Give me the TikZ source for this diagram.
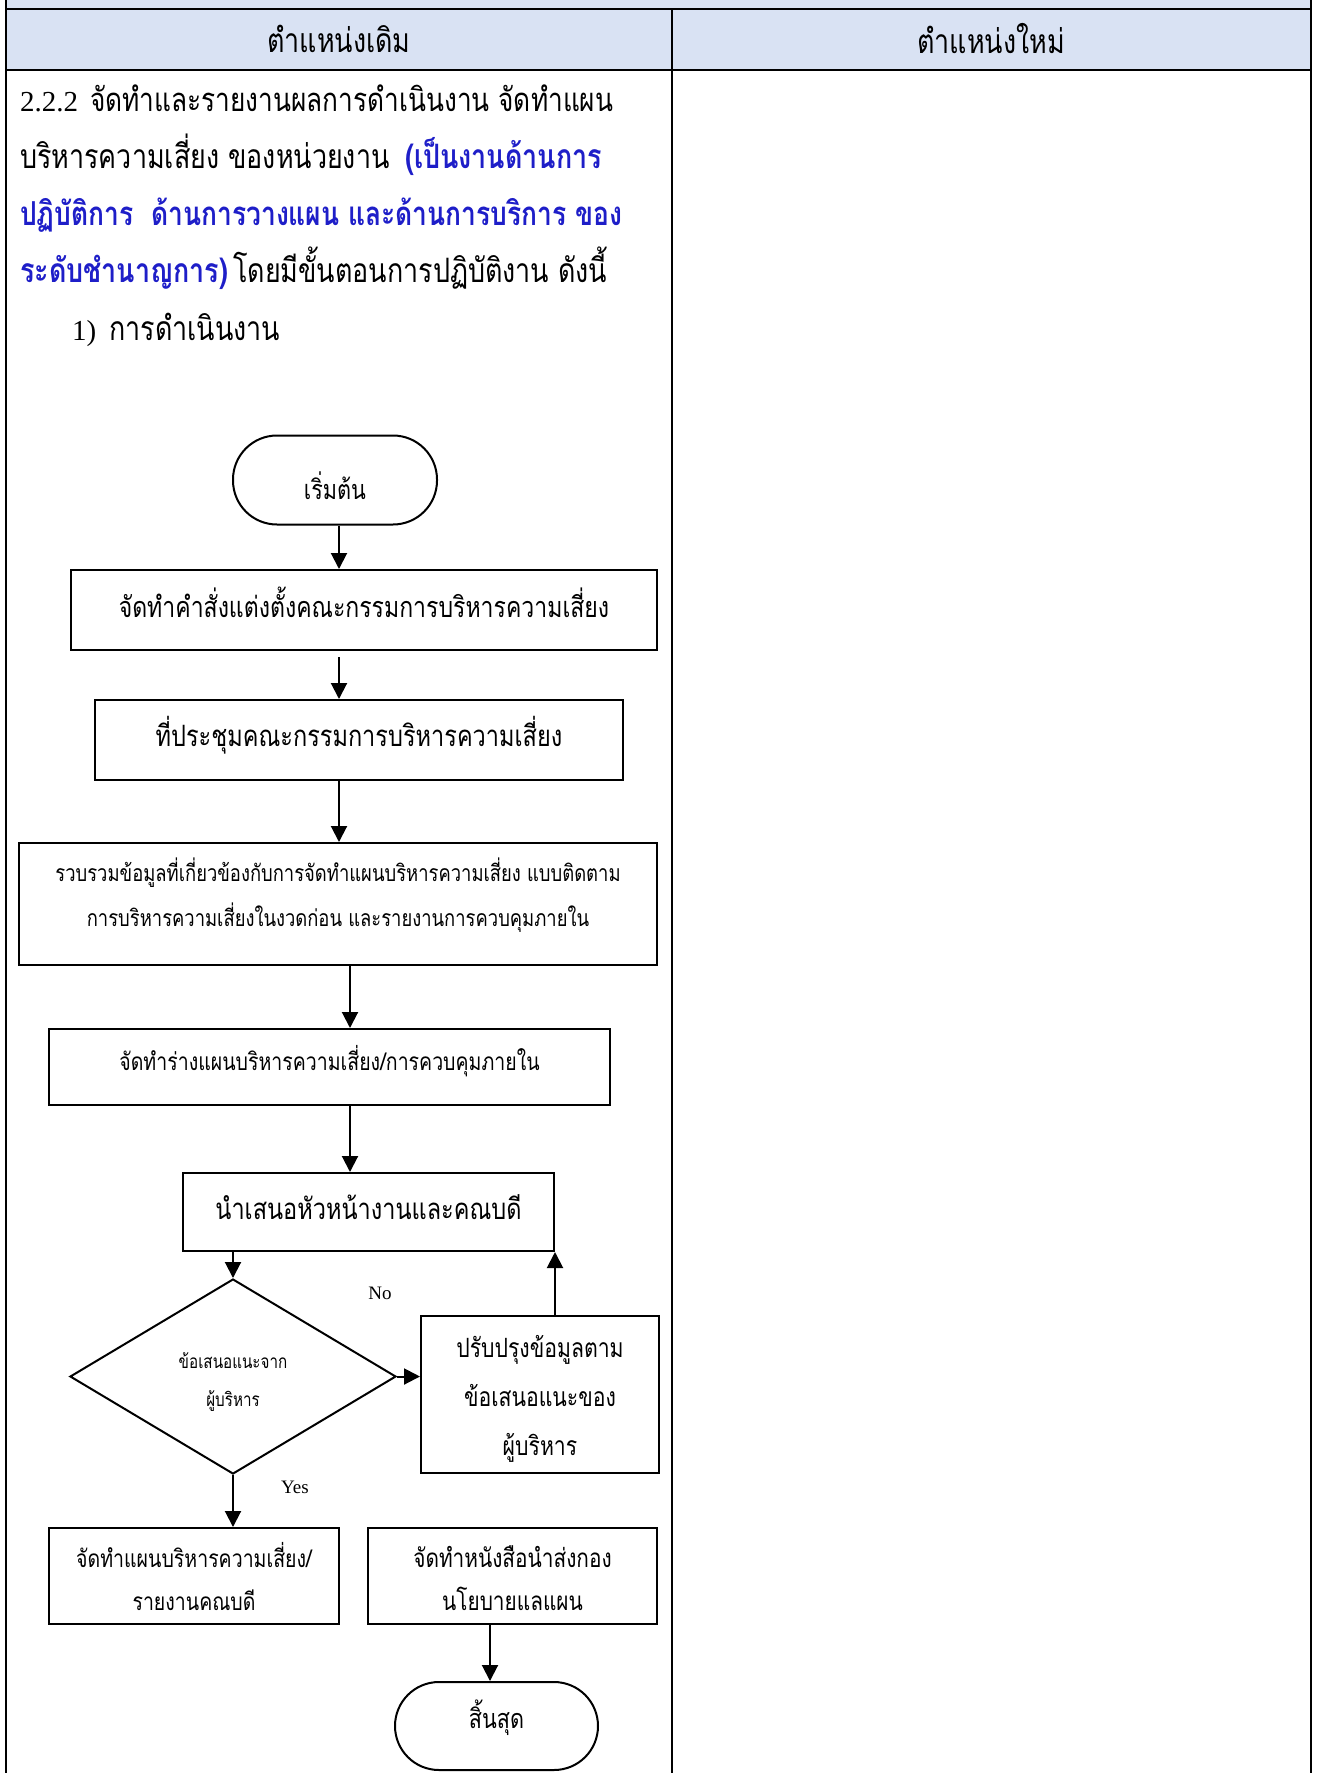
\documentclass[tikz,border=0pt]{standalone}
\usepackage{fontspec}
\setmainfont{Liberation Serif}
\newfontfamily\thai[Script=Thai,FakeStretch=0.8]{Loma}
\usetikzlibrary{arrows.meta,shapes.geometric}

\definecolor{headblue}{RGB}{217,226,243}
\definecolor{textblue}{RGB}{30,30,200}

\newcommand\tsz[2]{\fontsize{#1}{#2}\selectfont}
\newcommand\latinbody{\rmfamily\tsz{29}{34}}
% move a line of text up or down without changing its box
\newcommand\nudge[2]{\raisebox{#1}[\height][\depth]{#2}}

\tikzset{
  para/.style={anchor=base west, inner sep=0pt, font=\thai\tsz{33.6}{40}},
  bluepara/.style={para, text=textblue, font=\thai\bfseries\tsz{33.6}{40}},
  headtxt/.style={inner sep=0pt, font=\thai\tsz{33.6}{40}},
  box/.style={draw, rectangle, line width=2pt, inner sep=0pt, align=center, font=\thai},
  term/.style={box, rounded corners=44pt},
  decision/.style={draw, diamond, line width=2pt, inner sep=0pt, align=center, font=\thai},
  flow/.style={-{Triangle[length=16pt,width=16pt]}, line width=2pt},
  lbl/.style={inner sep=0pt, font=\rmfamily\tsz{19}{22}},
}

\begin{document}
\begin{tikzpicture}[x=1pt,y=-1pt]
\useasboundingbox (0,0) rectangle (1320,1773);

% table
\fill[headblue] (6,0) rectangle (1311,70);
\draw[line width=2.2pt] (6,9) -- (1311,9);
\draw[line width=2.2pt] (6,70) -- (1311,70);
\draw[line width=2.2pt] (6,0) -- (6,1773);
\draw[line width=2.2pt] (1311,0) -- (1311,1773);
\draw[line width=2pt] (672,9) -- (672,1773);
\node[headtxt] (hold) at (339,39) {ตำแหน่งเดิม};
\node[headtxt] (hnew) at (991,39) {ตำแหน่งใหม่};

% paragraph
\node[para, font=\latinbody] (p1a) at (20,111) {2.2.2};
\node[para, font=\thai\tsz{32.8}{40}] (p1b) at (90,111) {จัดทำและรายงานผลการดำเนินงาน จัดทำแผน};
\node[para] (p2a) at (20,168) {บริหารความเสี่ยง ของหน่วยงาน};
\node[bluepara] (p2b) at (405,168) {(เป็นงานด้านการ};
\node[bluepara, font=\thai\bfseries\tsz{33}{40}] (p3) at (20,225) {ปฏิบัติการ~~ด้านการวางแผน และด้านการบริการ ของ};
\node[bluepara] (p4a) at (20,282) {ระดับชำนาญการ)};
\node[para] (p4b) at (233,282) {โดยมีขั้นตอนการปฏิบัติงาน ดังนี้};
\node[para, font=\latinbody] (p5a) at (72,340) {1)};
\node[para] (p5b) at (109,340) {การดำเนินงาน};

% flowchart
\node[term, minimum width=204pt, minimum height=89pt, font=\thai\tsz{27}{32}] (start) at (335,480) {\nudge{-6pt}{เริ่มต้น}};
\node[box, minimum width=586pt, minimum height=80pt, font=\thai\tsz{28.8}{36}] (order) at (364,610) {\nudge{8pt}{จัดทำคำสั่งแต่งตั้งคณะกรรมการบริหารความเสี่ยง}};
\node[box, minimum width=528pt, minimum height=80pt, font=\thai\tsz{29.4}{36}] (meet) at (359,740) {\nudge{4.5pt}{ที่ประชุมคณะกรรมการบริหารความเสี่ยง}};
\node[box, minimum width=638pt, minimum height=122pt, font=\thai\tsz{23}{45}] (collect) at (338,904) {\nudge{9pt}{รวบรวมข้อมูลที่เกี่ยวข้องกับการจัดทำแผนบริหารความเสี่ยง แบบติดตาม}\\\nudge{9pt}{การบริหารความเสี่ยงในงวดก่อน และรายงานการควบคุมภายใน}};
\node[box, minimum width=561pt, minimum height=76pt, font=\thai\tsz{24.4}{30}] (draft) at (329.5,1067) {\nudge{5.5pt}{จัดทำร่างแผนบริหารความเสี่ยง/การควบคุมภายใน}};
\node[box, minimum width=371pt, minimum height=78pt, font=\thai\tsz{29.4}{36}] (propose) at (368.5,1212) {\nudge{4.5pt}{นำเสนอหัวหน้างานและคณบดี}};
\node[decision, minimum width=326pt, minimum height=195pt, font=\thai\tsz{19}{38}] (advice) at (233,1376.5) {\nudge{-5.5pt}{ข้อเสนอแนะจาก}\\\nudge{-5.5pt}{ผู้บริหาร}};
\node[box, minimum width=238pt, minimum height=157pt, font=\thai\tsz{26.5}{49}] (revise) at (540,1394.5) {\nudge{-4.5pt}{ปรับปรุงข้อมูลตาม}\\\nudge{-4.5pt}{ข้อเสนอแนะของ}\\\nudge{-4.5pt}{ผู้บริหาร}};
\node[box, minimum width=290pt, minimum height=96pt, font=\thai\tsz{24.4}{43}] (plan) at (194,1576) {จัดทำแผนบริหารความเสี่ยง/\\รายงานคณบดี};
\node[box, minimum width=289pt, minimum height=96pt, font=\thai\tsz{26}{43}] (letter) at (512.5,1576) {\nudge{-2pt}{จัดทำหนังสือนำส่งกอง}\\\nudge{-2pt}{นโยบายแลแผน}};
\node[term, minimum width=203pt, minimum height=88pt, font=\thai\tsz{27}{32}] (stop) at (496.5,1726) {\nudge{8pt}{สิ้นสุด}};
\node[lbl] (no) at (380,1293) {No};
\node[lbl] (yes) at (295,1487) {Yes};
\coordinate (trunkA) at (339,0);
\coordinate (trunkB) at (350,0);
\coordinate (endin) at (490,0);

\draw[flow] (trunkA |- start.south) -- (trunkA |- order.north);
\draw[flow, shorten <=6pt] (trunkA |- order.south) -- (trunkA |- meet.north);
\draw[flow] (trunkA |- meet.south) -- (trunkA |- collect.north);
\draw[flow] (trunkB |- collect.south) -- (trunkB |- draft.north);
\draw[flow] (trunkB |- draft.south) -- (trunkB |- propose.north);
\draw[flow] (advice.north |- propose.south) -- (advice.north);
\draw[flow] (advice.east) -- (revise.west |- advice.east);
\draw[flow] (revise.north -| propose.south east) -- (propose.south east);
\draw[flow] (advice.south) -- (advice.south |- plan.north);
\draw[flow] (endin |- letter.south) -- (endin |- stop.north);
\end{tikzpicture}
\end{document}
